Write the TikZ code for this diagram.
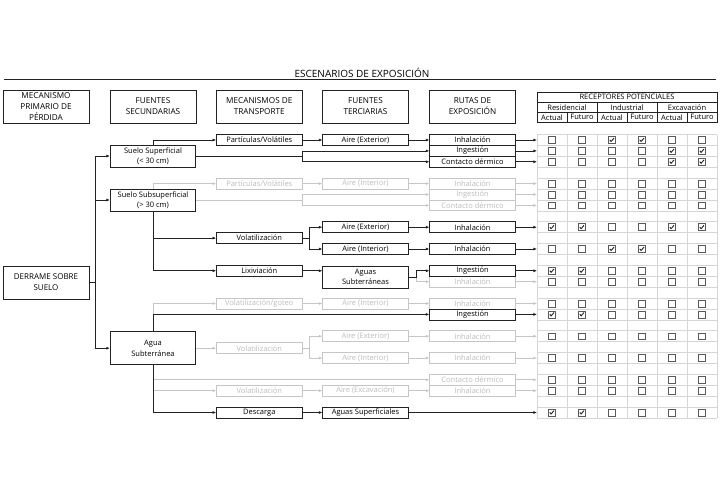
\documentclass[tikz,border=0pt]{standalone}
\usepackage{fontspec}
\setmainfont{Open Sans}
\usetikzlibrary{arrows.meta}
\definecolor{ink}{HTML}{222222}
\definecolor{lg}{HTML}{C6C6C6}
\definecolor{gt}{HTML}{BDBDBD}
\definecolor{gridc}{HTML}{D6D6D6}
\definecolor{cbc}{HTML}{5A5A5A}
\begin{document}
\begin{tikzpicture}[x=1pt,y=-1pt,
  font=\fontsize{7.5}{9}\selectfont,
  hdr/.style={draw=ink,line width=0.9pt,minimum width=86pt,minimum height=33pt,inner sep=0pt,align=center,font=\fontsize{8.2}{11}\selectfont},
  bx/.style={draw=ink,line width=0.7pt,minimum width=85.5pt,minimum height=10.9pt,inner sep=0pt},
  gbx/.style={bx,draw=lg,text=gt},
  src/.style={bx,minimum height=21.8pt,align=center,font=\fontsize{7.5}{10.5}\selectfont},
  arr/.style={draw=ink,line width=0.7pt,-{Latex[length=3.6pt,width=3pt]}},
  ln/.style={draw=ink,line width=0.7pt},
  garr/.style={draw=lg,line width=0.7pt,-{Latex[length=3.6pt,width=3pt]}},
  gln/.style={draw=lg,line width=0.7pt},
  cb0/.style={draw=cbc,line width=0.6pt,minimum size=6.8pt,inner sep=0pt},
  cb1/.style={cb0,path picture={\draw[ink,line width=0.9pt]
     ([shift={(-2.2,-0.1)}]path picture bounding box.center) -- ++(1.3,1.6) -- ++(2.9,-3.4);}},
  rc/.style={draw=ink,line width=0.7pt,inner sep=0pt,minimum height=10pt,font=\fontsize{7.5}{9}\selectfont}
]
\path[fill=white,use as bounding box] (0,0) rectangle (720,486);

% title
\node (title) at (362,72.5) {\fontsize{10}{11}\selectfont ESCENARIOS DE EXPOSICIÓN};
\draw[ink,line width=1.4pt] (4,79.5) -- (716,79.5);

% headers
\node[hdr] (h1) at (46,106.5) {MECANISMO\\PRIMARIO DE\\PÉRDIDA};
\node[hdr] (h2) at (153,106.5) {FUENTES\\SECUNDARIAS};
\node[hdr] (h3) at (259.3,106.5) {MECANISMOS DE\\TRANSPORTE};
\node[hdr] (h4) at (365.5,106.5) {FUENTES\\TERCIARIAS};
\node[hdr] (h5) at (472.5,106.5) {RUTAS DE\\EXPOSICIÓN};

% receptor header table
\node[rc,minimum width=180pt] (rp) at (627,97.3) {RECEPTORES POTENCIALES};
\node[rc,minimum width=60pt] (g1) at (567,107.3) {Residencial};
\node[rc,minimum width=60pt] (g2) at (627,107.3) {Industrial};
\node[rc,minimum width=60pt] (g3) at (687,107.3) {Excavación};
\foreach \cc/\tt in {1/Actual,2/Futuro,3/Actual,4/Futuro,5/Actual,6/Futuro}
  \node[rc,minimum width=30pt] (sub-\cc) at ({522+30*\cc},117.3) {\tt};

% grid
\foreach \k in {0,...,26}
  \draw[gridc,line width=0.6pt] (537,{134.55+10.9*\k}) -- (717,{134.55+10.9*\k});
\foreach \xx in {537,567,597,627,657,687,717}
  \draw[gridc,line width=0.6pt] (\xx,134.55) -- (\xx,417.95);

% checkboxes
\foreach \yy/\fa/\fb/\fc/\fd/\fe/\ff [count=\r] in {
  140/0/0/1/1/0/0, 150.9/0/0/0/0/1/1, 161.8/0/0/0/0/1/1,
  183.6/0/0/0/0/0/0, 194.5/0/0/0/0/0/0, 205.4/0/0/0/0/0/0,
  227.2/1/1/0/0/1/1, 249/0/0/1/1/0/0,
  270.8/1/1/0/0/0/0, 281.7/0/0/0/0/0/0,
  303.5/0/0/0/0/0/0, 314.4/1/1/0/0/0/0,
  336.2/0/0/0/0/0/0, 358/0/0/0/0/0/0,
  379.8/0/0/0/0/0/0, 390.7/0/0/0/0/0/0,
  412.5/1/1/0/0/0/0}{
  \coordinate (in-\r) at (537,\yy);
  \foreach \v [count=\cc] in {\fa,\fb,\fc,\fd,\fe,\ff}
    \node[cb\v] (cb-\r-\cc) at ({522+30*\cc},\yy) {};
}

% primary source and trunk
\node[draw=ink,line width=0.9pt,minimum width=86pt,minimum height=33pt,inner sep=0pt,align=center,font=\fontsize{8}{11}\selectfont] (der) at (46,282.5) {DERRAME SOBRE\\SUELO};
\coordinate (t0) at (95,282.5);
\node[src] (ss) at (153,156) {Suelo Superficial\\(< 30 cm)};
\node[src] (sb) at (153,200) {Suelo Subsuperficial\\(> 30 cm)};
\node[src,minimum height=33pt] (as) at (153,348.2) {Agua\\Subterránea};
\draw[ln] (der.east) -- (t0);
\draw[arr] (t0) |- (ss.west);
\draw[arr] (t0) |- (sb.west);
\draw[arr] (t0) |- (as.west);

% ---------- gray nodes first ----------
\node[gbx] (p2) at (259.3,183.6) {Partículas/Volátiles};
\node[gbx] (a2) at (365.5,183.6) {Aire (Interior)};
\node[gbx] (r4) at (472.5,183.6) {Inhalación};
\node[gbx] (r5) at (472.5,194.5) {Ingestión};
\node[gbx] (r6) at (472.5,205.4) {Contacto dérmico};
\node[gbx] (r10) at (472.5,281.7) {Inhalación};
\node[gbx] (vg) at (259.3,303.5) {Volatilización/goteo};
\node[gbx] (a5) at (365.5,303.5) {Aire (Interior)};
\node[gbx] (r11) at (472.5,303.5) {Inhalación};
\node[gbx] (v2) at (259.3,348.2) {Volatilización};
\node[gbx] (a6) at (365.5,336.2) {Aire (Exterior)};
\node[gbx] (a7) at (365.5,358) {Aire (Interior)};
\node[gbx] (r13) at (472.5,336.2) {Inhalación};
\node[gbx] (r14) at (472.5,358) {Inhalación};
\node[gbx] (r15) at (472.5,379.8) {Contacto dérmico};
\node[gbx] (r16) at (472.5,390.7) {Inhalación};
\node[gbx] (v3) at (259.3,390.7) {Volatilización};
\node[gbx] (a8) at (365.5,390.7) {Aire (Excavación)};

% ---------- black nodes ----------
\node[bx] (p1) at (259.3,140) {Partículas/Volátiles};
\node[bx] (a1) at (365.5,140) {Aire (Exterior)};
\node[bx] (r1) at (472.5,140) {Inhalación};
\node[bx] (r2) at (472.5,150.9) {Ingestión};
\node[bx] (r3) at (472.5,161.8) {Contacto dérmico};
\node[bx] (v1) at (259.3,238.1) {Volatilización};
\node[bx] (lx) at (259.3,270.8) {Lixiviación};
\node[bx] (a3) at (365.5,227.2) {Aire (Exterior)};
\node[bx] (a4) at (365.5,249) {Aire (Interior)};
\node[bx] (r7) at (472.5,227.2) {Inhalación};
\node[bx] (r8) at (472.5,249) {Inhalación};
\node[src] (ast) at (365.5,277) {Aguas\\Subterráneas};
\node[bx] (r9) at (472.5,270.8) {Ingestión};
\node[bx] (r12) at (472.5,314.4) {Ingestión};
\node[bx] (dc) at (259.3,412.5) {Descarga};
\node[bx] (asu) at (365.5,412.5) {Aguas Superficiales};

% ---------- gray connectors ----------
\coordinate (k2) at (302,200);
\draw[garr] (sb.north) |- (p2.west);
\draw[garr] (p2) -- (a2);
\draw[garr] (a2) -- (r4);
\draw[gln] (sb.east) -- (k2);
\draw[garr] (k2) |- (r5.west);
\draw[garr] (k2) |- (r6.west);
\foreach \r in {4,5,6} \draw[garr] (r\r) -- (in-\r);

\coordinate (k4) at (416.7,277);
\draw[garr] (k4) |- (r10.west);
\draw[garr] (r10) -- (in-10);

\draw[garr] (as.north) |- (vg.west);
\draw[garr] (vg) -- (a5);
\draw[garr] (a5) -- (r11);
\draw[garr] (r11) -- (in-11);

\coordinate (k5) at (309.5,348.2);
\draw[garr] (as.east) -- (v2.west);
\draw[gln] (v2.east) -- (k5);
\draw[garr] (k5) |- (a6.west);
\draw[garr] (k5) |- (a7.west);
\draw[garr] (a6) -- (r13);
\draw[garr] (a7) -- (r14);
\draw[garr] (r13) -- (in-13);
\draw[garr] (r14) -- (in-14);

\draw[garr] (as.south) |- (r15.west);
\draw[garr] (as.south) |- (v3.west);
\draw[garr] (v3) -- (a8);
\draw[garr] (a8) -- (r16);
\draw[garr] (r15) -- (in-15);
\draw[garr] (r16) -- (in-16);

% ---------- black connectors ----------
\coordinate (k1) at (302,156);
\draw[arr] (ss.north) |- (p1.west);
\draw[arr] (p1) -- (a1);
\draw[arr] (a1) -- (r1);
\draw[ln] (ss.east) -- (k1);
\draw[arr] (k1) |- (r2.west);
\draw[arr] (k1) |- (r3.west);
\foreach \r in {1,2,3} \draw[arr] (r\r) -- (in-\r);

\coordinate (k3) at (309.5,238.1);
\draw[arr] (sb.south) |- (v1.west);
\draw[arr] (sb.south) |- (lx.west);
\draw[ln] (v1.east) -- (k3);
\draw[arr] (k3) |- (a3.west);
\draw[arr] (k3) |- (a4.west);
\draw[arr] (a3) -- (r7);
\draw[arr] (a4) -- (r8);
\draw[arr] (r7) -- (in-7);
\draw[arr] (r8) -- (in-8);

\draw[arr] (lx.east) -- (lx.east -| ast.west);
\draw[ln] (ast.east) -- (k4);
\draw[arr] (k4) |- (r9.west);
\draw[arr] (r9) -- (in-9);

\draw[arr] (as.north) |- (r12.west);
\draw[arr] (r12) -- (in-12);

\draw[arr] (as.south) |- (dc.west);
\draw[arr] (dc) -- (asu);
\draw[arr] (asu.east) -- (in-17);
\end{tikzpicture}
\end{document}
